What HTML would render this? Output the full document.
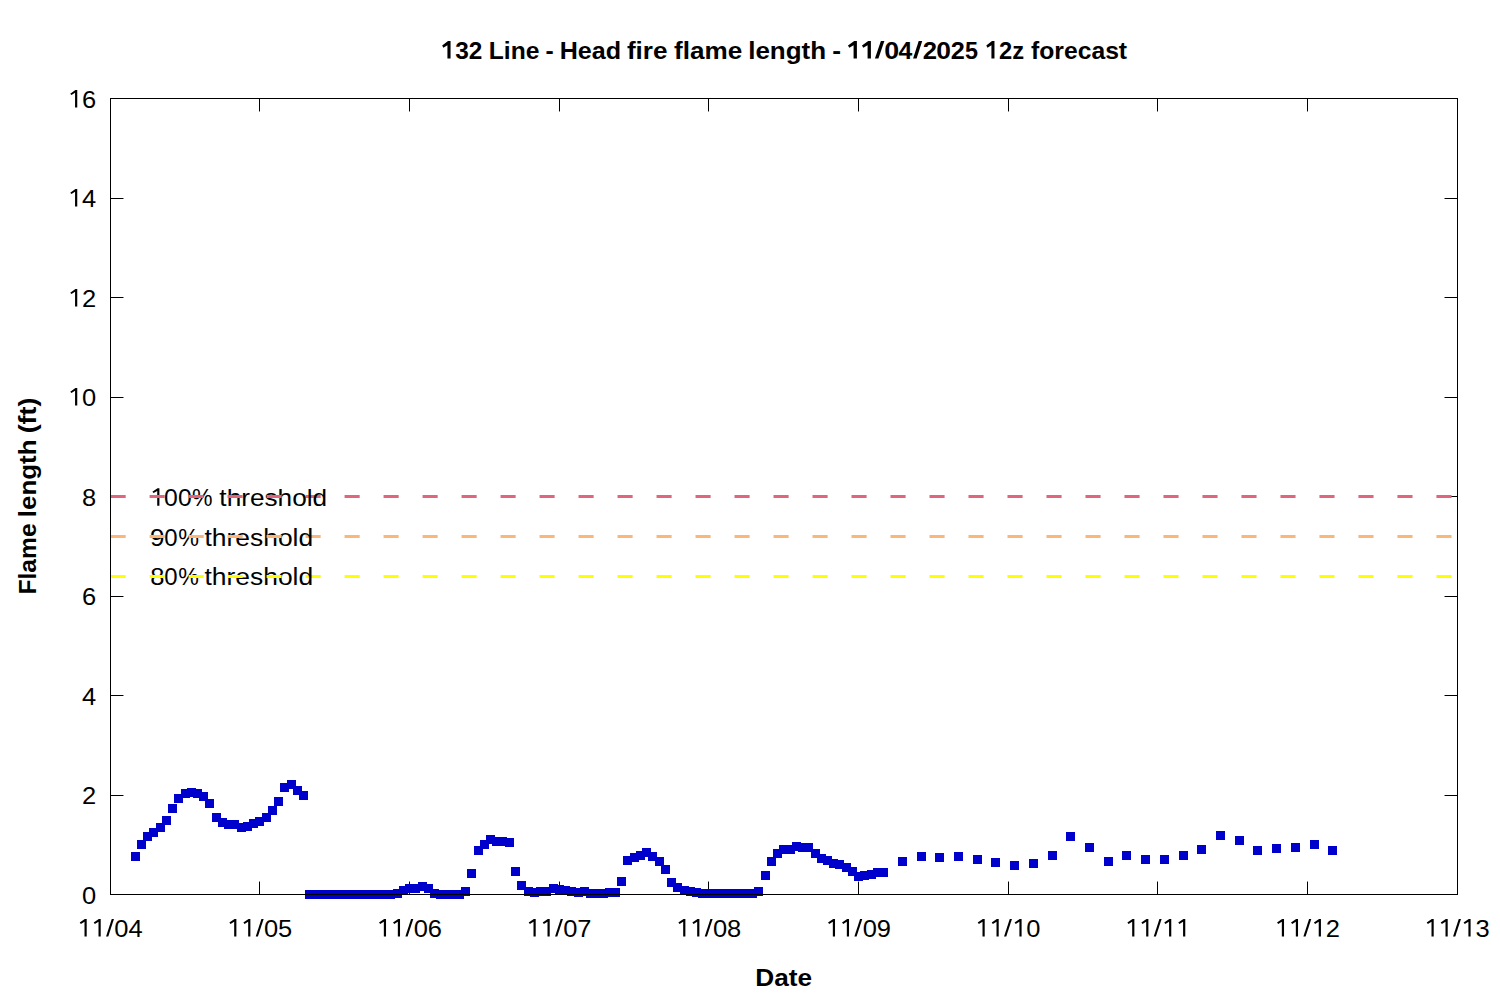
<!DOCTYPE html>
<html><head><meta charset="utf-8"><style>html,body{margin:0;padding:0;background:#fff;overflow:hidden}svg{display:block}</style></head><body>
<svg width="1500" height="1000" viewBox="0 0 1500 1000">
<rect width="1500" height="1000" fill="#fff"/>
<g shape-rendering="crispEdges"><rect x="111" y="198" width="12" height="1" fill="#000"/><rect x="123" y="198" width="1" height="1" fill="#888"/><rect x="1445" y="198" width="12" height="1" fill="#000"/><rect x="1444" y="198" width="1" height="1" fill="#888"/><rect x="111" y="297" width="12" height="1" fill="#000"/><rect x="123" y="297" width="1" height="1" fill="#888"/><rect x="1445" y="297" width="12" height="1" fill="#000"/><rect x="1444" y="297" width="1" height="1" fill="#888"/><rect x="111" y="397" width="12" height="1" fill="#000"/><rect x="123" y="397" width="1" height="1" fill="#888"/><rect x="1445" y="397" width="12" height="1" fill="#000"/><rect x="1444" y="397" width="1" height="1" fill="#888"/><rect x="111" y="496" width="12" height="1" fill="#000"/><rect x="123" y="496" width="1" height="1" fill="#888"/><rect x="1445" y="496" width="12" height="1" fill="#000"/><rect x="1444" y="496" width="1" height="1" fill="#888"/><rect x="111" y="596" width="12" height="1" fill="#000"/><rect x="123" y="596" width="1" height="1" fill="#888"/><rect x="1445" y="596" width="12" height="1" fill="#000"/><rect x="1444" y="596" width="1" height="1" fill="#888"/><rect x="111" y="695" width="12" height="1" fill="#000"/><rect x="123" y="695" width="1" height="1" fill="#888"/><rect x="1445" y="695" width="12" height="1" fill="#000"/><rect x="1444" y="695" width="1" height="1" fill="#888"/><rect x="111" y="795" width="12" height="1" fill="#000"/><rect x="123" y="795" width="1" height="1" fill="#888"/><rect x="1445" y="795" width="12" height="1" fill="#000"/><rect x="1444" y="795" width="1" height="1" fill="#888"/><rect x="259" y="99" width="1" height="12" fill="#000"/><rect x="259" y="111" width="1" height="1" fill="#888"/><rect x="259" y="882" width="1" height="12" fill="#000"/><rect x="259" y="881" width="1" height="1" fill="#888"/><rect x="409" y="99" width="1" height="12" fill="#000"/><rect x="409" y="111" width="1" height="1" fill="#888"/><rect x="409" y="882" width="1" height="12" fill="#000"/><rect x="409" y="881" width="1" height="1" fill="#888"/><rect x="559" y="99" width="1" height="12" fill="#000"/><rect x="559" y="111" width="1" height="1" fill="#888"/><rect x="559" y="882" width="1" height="12" fill="#000"/><rect x="559" y="881" width="1" height="1" fill="#888"/><rect x="708" y="99" width="1" height="12" fill="#000"/><rect x="708" y="111" width="1" height="1" fill="#888"/><rect x="708" y="882" width="1" height="12" fill="#000"/><rect x="708" y="881" width="1" height="1" fill="#888"/><rect x="858" y="99" width="1" height="12" fill="#000"/><rect x="858" y="111" width="1" height="1" fill="#888"/><rect x="858" y="882" width="1" height="12" fill="#000"/><rect x="858" y="881" width="1" height="1" fill="#888"/><rect x="1008" y="99" width="1" height="12" fill="#000"/><rect x="1008" y="111" width="1" height="1" fill="#888"/><rect x="1008" y="882" width="1" height="12" fill="#000"/><rect x="1008" y="881" width="1" height="1" fill="#888"/><rect x="1157" y="99" width="1" height="12" fill="#000"/><rect x="1157" y="111" width="1" height="1" fill="#888"/><rect x="1157" y="882" width="1" height="12" fill="#000"/><rect x="1157" y="881" width="1" height="1" fill="#888"/><rect x="1307" y="99" width="1" height="12" fill="#000"/><rect x="1307" y="111" width="1" height="1" fill="#888"/><rect x="1307" y="882" width="1" height="12" fill="#000"/><rect x="1307" y="881" width="1" height="1" fill="#888"/></g>
<g fill="#e0667d"><rect x="305.57" y="495" width="15.10" height="3"/><rect x="344.57" y="495" width="15.10" height="3"/><rect x="383.56" y="495" width="15.10" height="3"/><rect x="422.56" y="495" width="15.10" height="3"/><rect x="461.56" y="495" width="15.10" height="3"/><rect x="500.55" y="495" width="15.10" height="3"/><rect x="539.54" y="495" width="15.10" height="3"/><rect x="578.54" y="495" width="15.10" height="3"/><rect x="617.53" y="495" width="15.10" height="3"/><rect x="656.53" y="495" width="15.10" height="3"/><rect x="695.52" y="495" width="15.10" height="3"/><rect x="734.52" y="495" width="15.10" height="3"/><rect x="773.51" y="495" width="15.10" height="3"/><rect x="812.51" y="495" width="15.10" height="3"/><rect x="851.50" y="495" width="15.10" height="3"/><rect x="890.50" y="495" width="15.10" height="3"/><rect x="929.50" y="495" width="15.10" height="3"/><rect x="968.49" y="495" width="15.10" height="3"/><rect x="1007.49" y="495" width="15.10" height="3"/><rect x="1046.48" y="495" width="15.10" height="3"/><rect x="1085.47" y="495" width="15.10" height="3"/><rect x="1124.47" y="495" width="15.10" height="3"/><rect x="1163.46" y="495" width="15.10" height="3"/><rect x="1202.46" y="495" width="15.10" height="3"/><rect x="1241.45" y="495" width="15.10" height="3"/><rect x="1280.45" y="495" width="15.10" height="3"/><rect x="1319.44" y="495" width="15.10" height="3"/><rect x="1358.44" y="495" width="15.10" height="3"/><rect x="1397.43" y="495" width="15.10" height="3"/><rect x="1436.43" y="495" width="15.10" height="3"/></g>
<g fill="#f9b87a"><rect x="305.57" y="535" width="15.10" height="3"/><rect x="344.57" y="535" width="15.10" height="3"/><rect x="383.56" y="535" width="15.10" height="3"/><rect x="422.56" y="535" width="15.10" height="3"/><rect x="461.56" y="535" width="15.10" height="3"/><rect x="500.55" y="535" width="15.10" height="3"/><rect x="539.54" y="535" width="15.10" height="3"/><rect x="578.54" y="535" width="15.10" height="3"/><rect x="617.53" y="535" width="15.10" height="3"/><rect x="656.53" y="535" width="15.10" height="3"/><rect x="695.52" y="535" width="15.10" height="3"/><rect x="734.52" y="535" width="15.10" height="3"/><rect x="773.51" y="535" width="15.10" height="3"/><rect x="812.51" y="535" width="15.10" height="3"/><rect x="851.50" y="535" width="15.10" height="3"/><rect x="890.50" y="535" width="15.10" height="3"/><rect x="929.50" y="535" width="15.10" height="3"/><rect x="968.49" y="535" width="15.10" height="3"/><rect x="1007.49" y="535" width="15.10" height="3"/><rect x="1046.48" y="535" width="15.10" height="3"/><rect x="1085.47" y="535" width="15.10" height="3"/><rect x="1124.47" y="535" width="15.10" height="3"/><rect x="1163.46" y="535" width="15.10" height="3"/><rect x="1202.46" y="535" width="15.10" height="3"/><rect x="1241.45" y="535" width="15.10" height="3"/><rect x="1280.45" y="535" width="15.10" height="3"/><rect x="1319.44" y="535" width="15.10" height="3"/><rect x="1358.44" y="535" width="15.10" height="3"/><rect x="1397.43" y="535" width="15.10" height="3"/><rect x="1436.43" y="535" width="15.10" height="3"/></g>
<g fill="#ffff00"><rect x="305.57" y="575" width="15.10" height="3"/><rect x="344.57" y="575" width="15.10" height="3"/><rect x="383.56" y="575" width="15.10" height="3"/><rect x="422.56" y="575" width="15.10" height="3"/><rect x="461.56" y="575" width="15.10" height="3"/><rect x="500.55" y="575" width="15.10" height="3"/><rect x="539.54" y="575" width="15.10" height="3"/><rect x="578.54" y="575" width="15.10" height="3"/><rect x="617.53" y="575" width="15.10" height="3"/><rect x="656.53" y="575" width="15.10" height="3"/><rect x="695.52" y="575" width="15.10" height="3"/><rect x="734.52" y="575" width="15.10" height="3"/><rect x="773.51" y="575" width="15.10" height="3"/><rect x="812.51" y="575" width="15.10" height="3"/><rect x="851.50" y="575" width="15.10" height="3"/><rect x="890.50" y="575" width="15.10" height="3"/><rect x="929.50" y="575" width="15.10" height="3"/><rect x="968.49" y="575" width="15.10" height="3"/><rect x="1007.49" y="575" width="15.10" height="3"/><rect x="1046.48" y="575" width="15.10" height="3"/><rect x="1085.47" y="575" width="15.10" height="3"/><rect x="1124.47" y="575" width="15.10" height="3"/><rect x="1163.46" y="575" width="15.10" height="3"/><rect x="1202.46" y="575" width="15.10" height="3"/><rect x="1241.45" y="575" width="15.10" height="3"/><rect x="1280.45" y="575" width="15.10" height="3"/><rect x="1319.44" y="575" width="15.10" height="3"/><rect x="1358.44" y="575" width="15.10" height="3"/><rect x="1397.43" y="575" width="15.10" height="3"/><rect x="1436.43" y="575" width="15.10" height="3"/></g>
<g font-family="Liberation Sans, sans-serif" font-size="24.5" fill="#000">
<text id="t0" transform="translate(441.67,58.50) scale(0.9962,1)" font-weight="bold"><tspan fill="transparent">1</tspan>32</text>
<path transform="translate(441.67,58.50) scale(0.9962,1)" d="M8.92,-17.49 L8.92,0.00 L5.78,0.00 L5.78,-13.21 L1.71,-10.63 L0.49,-12.96 L6.37,-17.49Z"/>
<text id="t1" transform="translate(488.83,58.50) scale(1.0051,1)" font-weight="bold">Line</text>
<text id="t2" transform="translate(545.52,58.50) scale(1.0051,1)" font-weight="bold">-</text>
<text id="t3" transform="translate(559.68,58.50) scale(1.0248,1)" font-weight="bold">Head</text>
<text id="t4" transform="translate(626.90,58.50) scale(1.0655,1)" font-weight="bold">fire</text>
<text id="t5" transform="translate(674.03,58.50) scale(1.0665,1)" font-weight="bold">flame</text>
<text id="t6" transform="translate(748.18,58.50) scale(1.0604,1)" font-weight="bold">length</text>
<text id="t7" transform="translate(832.33,58.50) scale(1.0799,1)" font-weight="bold">-</text>
<text id="t8" transform="translate(985.82,58.50) scale(0.9703,1)" font-weight="bold"><tspan fill="transparent">1</tspan>2z</text>
<path transform="translate(985.82,58.50) scale(0.9703,1)" d="M8.92,-17.49 L8.92,0.00 L5.78,0.00 L5.78,-13.21 L1.71,-10.63 L0.49,-12.96 L6.37,-17.49Z"/>
<text id="t9" transform="translate(1031.00,58.50) scale(1.0087,1)" font-weight="bold">forecast</text>
<text id="t10" transform="translate(755.29,985.70) scale(1.0699,1)" font-weight="bold">Date</text>
<text id="t11" transform="translate(219.35,505.70) scale(1.0705,1)" font-weight="normal">threshold</text>
<text id="t12" transform="translate(204.41,545.60) scale(1.0794,1)" font-weight="normal">threshold</text>
<text id="t13" transform="translate(204.41,585.40) scale(1.0794,1)" font-weight="normal">threshold</text>
<text transform="translate(81.97,107.60) scale(1.0400,1)" font-weight="normal">6</text>
<path transform="translate(68.64,107.60) scale(1.0400,1)" d="M8.28,-17.49 L8.28,0.00 L6.17,0.00 L6.17,-14.80 L2.67,-12.59 L1.54,-13.94 L6.49,-17.49Z"/>
<text transform="translate(82.09,206.60) scale(1.0400,1)" font-weight="normal">4</text>
<path transform="translate(68.64,206.60) scale(1.0400,1)" d="M8.28,-17.49 L8.28,0.00 L6.17,0.00 L6.17,-14.80 L2.67,-12.59 L1.54,-13.94 L6.49,-17.49Z"/>
<text transform="translate(81.97,306.60) scale(1.0400,1)" font-weight="normal">2</text>
<path transform="translate(68.64,306.60) scale(1.0400,1)" d="M8.28,-17.49 L8.28,0.00 L6.17,0.00 L6.17,-14.80 L2.67,-12.59 L1.54,-13.94 L6.49,-17.49Z"/>
<text transform="translate(81.97,405.60) scale(1.0400,1)" font-weight="normal">0</text>
<path transform="translate(68.64,405.60) scale(1.0400,1)" d="M8.28,-17.49 L8.28,0.00 L6.17,0.00 L6.17,-14.80 L2.67,-12.59 L1.54,-13.94 L6.49,-17.49Z"/>
<text transform="translate(82.09,505.60) scale(1.0400,1)" font-weight="normal">8</text>
<text transform="translate(81.97,604.60) scale(1.0400,1)" font-weight="normal">6</text>
<text transform="translate(82.09,704.60) scale(1.0400,1)" font-weight="normal">4</text>
<text transform="translate(81.97,803.60) scale(1.0400,1)" font-weight="normal">2</text>
<text transform="translate(81.97,903.60) scale(1.0400,1)" font-weight="normal">0</text>
<path transform="translate(78.09,936.50) scale(1.0400,1)" d="M8.28,-17.49 L8.28,0.00 L6.17,0.00 L6.17,-14.80 L2.67,-12.59 L1.54,-13.94 L6.49,-17.49Z"/>
<path transform="translate(92.09,936.50) scale(1.0400,1)" d="M8.28,-17.49 L8.28,0.00 L6.17,0.00 L6.17,-14.80 L2.67,-12.59 L1.54,-13.94 L6.49,-17.49Z"/>
<path d="M106.06,936.50 L108.26,936.50 L113.94,919.01 L111.74,919.01Z"/>
<text transform="translate(114.32,936.50) scale(1.0400,1)" font-weight="normal">0</text>
<text transform="translate(128.44,936.50) scale(1.0400,1)" font-weight="normal">4</text>
<path transform="translate(227.76,936.50) scale(1.0400,1)" d="M8.28,-17.49 L8.28,0.00 L6.17,0.00 L6.17,-14.80 L2.67,-12.59 L1.54,-13.94 L6.49,-17.49Z"/>
<path transform="translate(241.76,936.50) scale(1.0400,1)" d="M8.28,-17.49 L8.28,0.00 L6.17,0.00 L6.17,-14.80 L2.67,-12.59 L1.54,-13.94 L6.49,-17.49Z"/>
<path d="M255.72,936.50 L257.92,936.50 L263.61,919.01 L261.41,919.01Z"/>
<text transform="translate(263.98,936.50) scale(1.0400,1)" font-weight="normal">0</text>
<text transform="translate(278.11,936.50) scale(1.0400,1)" font-weight="normal">5</text>
<path transform="translate(377.42,936.50) scale(1.0400,1)" d="M8.28,-17.49 L8.28,0.00 L6.17,0.00 L6.17,-14.80 L2.67,-12.59 L1.54,-13.94 L6.49,-17.49Z"/>
<path transform="translate(391.42,936.50) scale(1.0400,1)" d="M8.28,-17.49 L8.28,0.00 L6.17,0.00 L6.17,-14.80 L2.67,-12.59 L1.54,-13.94 L6.49,-17.49Z"/>
<path d="M405.39,936.50 L407.59,936.50 L413.28,919.01 L411.08,919.01Z"/>
<text transform="translate(413.65,936.50) scale(1.0400,1)" font-weight="normal">0</text>
<text transform="translate(427.65,936.50) scale(1.0400,1)" font-weight="normal">6</text>
<path transform="translate(527.09,936.50) scale(1.0400,1)" d="M8.28,-17.49 L8.28,0.00 L6.17,0.00 L6.17,-14.80 L2.67,-12.59 L1.54,-13.94 L6.49,-17.49Z"/>
<path transform="translate(541.09,936.50) scale(1.0400,1)" d="M8.28,-17.49 L8.28,0.00 L6.17,0.00 L6.17,-14.80 L2.67,-12.59 L1.54,-13.94 L6.49,-17.49Z"/>
<path d="M555.06,936.50 L557.26,936.50 L562.94,919.01 L560.74,919.01Z"/>
<text transform="translate(563.32,936.50) scale(1.0400,1)" font-weight="normal">0</text>
<text transform="translate(577.32,936.50) scale(1.0400,1)" font-weight="normal">7</text>
<path transform="translate(676.76,936.50) scale(1.0400,1)" d="M8.28,-17.49 L8.28,0.00 L6.17,0.00 L6.17,-14.80 L2.67,-12.59 L1.54,-13.94 L6.49,-17.49Z"/>
<path transform="translate(690.76,936.50) scale(1.0400,1)" d="M8.28,-17.49 L8.28,0.00 L6.17,0.00 L6.17,-14.80 L2.67,-12.59 L1.54,-13.94 L6.49,-17.49Z"/>
<path d="M704.72,936.50 L706.92,936.50 L712.61,919.01 L710.41,919.01Z"/>
<text transform="translate(712.98,936.50) scale(1.0400,1)" font-weight="normal">0</text>
<text transform="translate(727.11,936.50) scale(1.0400,1)" font-weight="normal">8</text>
<path transform="translate(826.42,936.50) scale(1.0400,1)" d="M8.28,-17.49 L8.28,0.00 L6.17,0.00 L6.17,-14.80 L2.67,-12.59 L1.54,-13.94 L6.49,-17.49Z"/>
<path transform="translate(840.42,936.50) scale(1.0400,1)" d="M8.28,-17.49 L8.28,0.00 L6.17,0.00 L6.17,-14.80 L2.67,-12.59 L1.54,-13.94 L6.49,-17.49Z"/>
<path d="M854.39,936.50 L856.59,936.50 L862.28,919.01 L860.08,919.01Z"/>
<text transform="translate(862.65,936.50) scale(1.0400,1)" font-weight="normal">0</text>
<text transform="translate(876.65,936.50) scale(1.0400,1)" font-weight="normal">9</text>
<path transform="translate(976.09,936.50) scale(1.0400,1)" d="M8.28,-17.49 L8.28,0.00 L6.17,0.00 L6.17,-14.80 L2.67,-12.59 L1.54,-13.94 L6.49,-17.49Z"/>
<path transform="translate(990.09,936.50) scale(1.0400,1)" d="M8.28,-17.49 L8.28,0.00 L6.17,0.00 L6.17,-14.80 L2.67,-12.59 L1.54,-13.94 L6.49,-17.49Z"/>
<path d="M1004.06,936.50 L1006.26,936.50 L1011.94,919.01 L1009.74,919.01Z"/>
<path transform="translate(1012.99,936.50) scale(1.0400,1)" d="M8.28,-17.49 L8.28,0.00 L6.17,0.00 L6.17,-14.80 L2.67,-12.59 L1.54,-13.94 L6.49,-17.49Z"/>
<text transform="translate(1026.32,936.50) scale(1.0400,1)" font-weight="normal">0</text>
<path transform="translate(1125.76,936.50) scale(1.0400,1)" d="M8.28,-17.49 L8.28,0.00 L6.17,0.00 L6.17,-14.80 L2.67,-12.59 L1.54,-13.94 L6.49,-17.49Z"/>
<path transform="translate(1139.76,936.50) scale(1.0400,1)" d="M8.28,-17.49 L8.28,0.00 L6.17,0.00 L6.17,-14.80 L2.67,-12.59 L1.54,-13.94 L6.49,-17.49Z"/>
<path d="M1153.72,936.50 L1155.92,936.50 L1161.61,919.01 L1159.41,919.01Z"/>
<path transform="translate(1162.66,936.50) scale(1.0400,1)" d="M8.28,-17.49 L8.28,0.00 L6.17,0.00 L6.17,-14.80 L2.67,-12.59 L1.54,-13.94 L6.49,-17.49Z"/>
<path transform="translate(1176.66,936.50) scale(1.0400,1)" d="M8.28,-17.49 L8.28,0.00 L6.17,0.00 L6.17,-14.80 L2.67,-12.59 L1.54,-13.94 L6.49,-17.49Z"/>
<path transform="translate(1275.42,936.50) scale(1.0400,1)" d="M8.28,-17.49 L8.28,0.00 L6.17,0.00 L6.17,-14.80 L2.67,-12.59 L1.54,-13.94 L6.49,-17.49Z"/>
<path transform="translate(1289.42,936.50) scale(1.0400,1)" d="M8.28,-17.49 L8.28,0.00 L6.17,0.00 L6.17,-14.80 L2.67,-12.59 L1.54,-13.94 L6.49,-17.49Z"/>
<path d="M1303.39,936.50 L1305.59,936.50 L1311.28,919.01 L1309.08,919.01Z"/>
<path transform="translate(1312.32,936.50) scale(1.0400,1)" d="M8.28,-17.49 L8.28,0.00 L6.17,0.00 L6.17,-14.80 L2.67,-12.59 L1.54,-13.94 L6.49,-17.49Z"/>
<text transform="translate(1325.65,936.50) scale(1.0400,1)" font-weight="normal">2</text>
<path transform="translate(1425.09,936.50) scale(1.0400,1)" d="M8.28,-17.49 L8.28,0.00 L6.17,0.00 L6.17,-14.80 L2.67,-12.59 L1.54,-13.94 L6.49,-17.49Z"/>
<path transform="translate(1439.09,936.50) scale(1.0400,1)" d="M8.28,-17.49 L8.28,0.00 L6.17,0.00 L6.17,-14.80 L2.67,-12.59 L1.54,-13.94 L6.49,-17.49Z"/>
<path d="M1453.06,936.50 L1455.26,936.50 L1460.94,919.01 L1458.74,919.01Z"/>
<path transform="translate(1461.99,936.50) scale(1.0400,1)" d="M8.28,-17.49 L8.28,0.00 L6.17,0.00 L6.17,-14.80 L2.67,-12.59 L1.54,-13.94 L6.49,-17.49Z"/>
<text transform="translate(1475.44,936.50) scale(1.0400,1)" font-weight="normal">3</text>
<path transform="translate(847.48,58.50) scale(1.0560,1)" d="M8.92,-17.49 L8.92,0.00 L5.78,0.00 L5.78,-13.21 L1.71,-10.63 L0.49,-12.96 L6.37,-17.49Z"/>
<path transform="translate(861.48,58.50) scale(1.0560,1)" d="M8.92,-17.49 L8.92,0.00 L5.78,0.00 L5.78,-13.21 L1.71,-10.63 L0.49,-12.96 L6.37,-17.49Z"/>
<path d="M874.90,58.50 L878.40,58.50 L884.40,41.01 L880.90,41.01Z"/>
<text transform="translate(884.33,58.50) scale(1.0942,1)" font-weight="bold">0</text>
<text transform="translate(898.41,58.50) scale(1.0089,1)" font-weight="bold">4</text>
<path d="M913.10,58.50 L916.60,58.50 L922.20,41.01 L918.70,41.01Z"/>
<text transform="translate(922.63,58.50) scale(1.0496,1)" font-weight="bold">2</text>
<text transform="translate(936.34,58.50) scale(1.0769,1)" font-weight="bold">0</text>
<text transform="translate(950.84,58.50) scale(1.0329,1)" font-weight="bold">2</text>
<text transform="translate(964.90,58.50) scale(0.9551,1)" font-weight="bold">5</text>
<path transform="translate(150.80,505.70) scale(1.0390,1)" d="M8.28,-17.49 L8.28,0.00 L6.17,0.00 L6.17,-14.80 L2.67,-12.59 L1.54,-13.94 L6.49,-17.49Z"/>
<text transform="translate(164.01,505.70) scale(1.0119,1)" font-weight="normal">0</text>
<text transform="translate(178.01,505.70) scale(1.0119,1)" font-weight="normal">0</text>
<text transform="translate(192.08,505.70) scale(0.9423,1)" font-weight="normal">%</text>
<text transform="translate(149.90,545.60) scale(1.0648,1)" font-weight="normal">9</text>
<text transform="translate(164.24,545.60) scale(0.9779,1)" font-weight="normal">0</text>
<text transform="translate(178.17,545.60) scale(0.9524,1)" font-weight="normal">%</text>
<text transform="translate(150.18,585.20) scale(1.0421,1)" font-weight="normal">8</text>
<text transform="translate(164.34,585.20) scale(0.9779,1)" font-weight="normal">0</text>
<text transform="translate(178.27,585.20) scale(0.9473,1)" font-weight="normal">%</text>
<text transform="translate(36.4,594.53) rotate(-90) scale(1.0065,1)" font-weight="bold">Flame</text>
<text transform="translate(36.4,517.21) rotate(-90) scale(1.0581,1)" font-weight="bold">length</text>
<text transform="translate(36.4,433.34) rotate(-90) scale(1.0951,1)" font-weight="bold">(ft)</text>
</g>
<g fill="#e0667d"><rect x="110.60" y="495" width="15.10" height="3"/><rect x="149.59" y="495" width="15.10" height="3"/><rect x="188.59" y="495" width="15.10" height="3"/><rect x="227.59" y="495" width="15.10" height="3"/><rect x="266.58" y="495" width="15.10" height="3"/></g>
<g fill="#f9b87a"><rect x="110.60" y="535" width="15.10" height="3"/><rect x="149.59" y="535" width="15.10" height="3"/><rect x="188.59" y="535" width="15.10" height="3"/><rect x="227.59" y="535" width="15.10" height="3"/><rect x="266.58" y="535" width="15.10" height="3"/></g>
<g fill="#ffff00"><rect x="110.60" y="575" width="15.10" height="3"/><rect x="149.59" y="575" width="15.10" height="3"/><rect x="188.59" y="575" width="15.10" height="3"/><rect x="227.59" y="575" width="15.10" height="3"/><rect x="266.58" y="575" width="15.10" height="3"/></g>
<g fill="#0000cc" shape-rendering="crispEdges">
<rect x="131" y="852" width="9" height="9"/><rect x="137" y="840" width="9" height="9"/><rect x="143" y="832" width="9" height="9"/><rect x="149" y="828" width="9" height="9"/><rect x="156" y="823" width="9" height="9"/><rect x="162" y="816" width="9" height="9"/><rect x="168" y="804" width="9" height="9"/><rect x="174" y="794" width="9" height="9"/><rect x="181" y="789" width="9" height="9"/><rect x="187" y="788" width="9" height="9"/><rect x="193" y="789" width="9" height="9"/><rect x="199" y="792" width="9" height="9"/><rect x="205" y="799" width="9" height="9"/><rect x="212" y="813" width="9" height="9"/><rect x="218" y="818" width="9" height="9"/><rect x="224" y="820" width="9" height="9"/><rect x="230" y="820" width="9" height="9"/><rect x="237" y="823" width="9" height="9"/><rect x="243" y="822" width="9" height="9"/><rect x="249" y="819" width="9" height="9"/><rect x="255" y="817" width="9" height="9"/><rect x="262" y="813" width="9" height="9"/><rect x="268" y="806" width="9" height="9"/><rect x="274" y="797" width="9" height="9"/><rect x="280" y="783" width="9" height="9"/><rect x="287" y="780" width="9" height="9"/><rect x="293" y="786" width="9" height="9"/><rect x="299" y="791" width="9" height="9"/><rect x="305" y="890" width="9" height="9"/><rect x="311" y="890" width="9" height="9"/><rect x="317" y="890" width="9" height="9"/><rect x="324" y="890" width="9" height="9"/><rect x="330" y="890" width="9" height="9"/><rect x="336" y="890" width="9" height="9"/><rect x="342" y="890" width="9" height="9"/><rect x="349" y="890" width="9" height="9"/><rect x="355" y="890" width="9" height="9"/><rect x="361" y="890" width="9" height="9"/><rect x="367" y="890" width="9" height="9"/><rect x="374" y="890" width="9" height="9"/><rect x="380" y="890" width="9" height="9"/><rect x="386" y="890" width="9" height="9"/><rect x="393" y="889" width="9" height="9"/><rect x="399" y="886" width="9" height="9"/><rect x="405" y="884" width="9" height="9"/><rect x="411" y="884" width="9" height="9"/><rect x="418" y="882" width="9" height="9"/><rect x="424" y="884" width="9" height="9"/><rect x="430" y="889" width="9" height="9"/><rect x="436" y="890" width="9" height="9"/><rect x="442" y="890" width="9" height="9"/><rect x="449" y="890" width="9" height="9"/><rect x="455" y="890" width="9" height="9"/><rect x="461" y="887" width="9" height="9"/><rect x="467" y="869" width="9" height="9"/><rect x="474" y="846" width="9" height="9"/><rect x="480" y="840" width="9" height="9"/><rect x="486" y="835" width="9" height="9"/><rect x="492" y="837" width="9" height="9"/><rect x="498" y="837" width="9" height="9"/><rect x="505" y="838" width="9" height="9"/><rect x="511" y="867" width="9" height="9"/><rect x="517" y="881" width="9" height="9"/><rect x="524" y="887" width="9" height="9"/><rect x="530" y="888" width="9" height="9"/><rect x="536" y="887" width="9" height="9"/><rect x="542" y="887" width="9" height="9"/><rect x="549" y="884" width="9" height="9"/><rect x="555" y="885" width="9" height="9"/><rect x="561" y="886" width="9" height="9"/><rect x="567" y="887" width="9" height="9"/><rect x="574" y="888" width="9" height="9"/><rect x="580" y="887" width="9" height="9"/><rect x="586" y="889" width="9" height="9"/><rect x="592" y="889" width="9" height="9"/><rect x="599" y="889" width="9" height="9"/><rect x="605" y="888" width="9" height="9"/><rect x="611" y="888" width="9" height="9"/><rect x="617" y="877" width="9" height="9"/><rect x="623" y="856" width="9" height="9"/><rect x="630" y="853" width="9" height="9"/><rect x="636" y="851" width="9" height="9"/><rect x="642" y="848" width="9" height="9"/><rect x="648" y="852" width="9" height="9"/><rect x="655" y="857" width="9" height="9"/><rect x="661" y="865" width="9" height="9"/><rect x="667" y="878" width="9" height="9"/><rect x="673" y="883" width="9" height="9"/><rect x="680" y="886" width="9" height="9"/><rect x="686" y="887" width="9" height="9"/><rect x="692" y="888" width="9" height="9"/><rect x="698" y="889" width="9" height="9"/><rect x="704" y="889" width="9" height="9"/><rect x="711" y="889" width="9" height="9"/><rect x="717" y="889" width="9" height="9"/><rect x="723" y="889" width="9" height="9"/><rect x="729" y="889" width="9" height="9"/><rect x="736" y="889" width="9" height="9"/><rect x="742" y="889" width="9" height="9"/><rect x="748" y="889" width="9" height="9"/><rect x="754" y="887" width="9" height="9"/><rect x="761" y="871" width="9" height="9"/><rect x="767" y="857" width="9" height="9"/><rect x="773" y="849" width="9" height="9"/><rect x="779" y="845" width="9" height="9"/><rect x="786" y="845" width="9" height="9"/><rect x="792" y="842" width="9" height="9"/><rect x="798" y="843" width="9" height="9"/><rect x="804" y="843" width="9" height="9"/><rect x="811" y="849" width="9" height="9"/><rect x="817" y="854" width="9" height="9"/><rect x="823" y="856" width="9" height="9"/><rect x="829" y="859" width="9" height="9"/><rect x="835" y="860" width="9" height="9"/><rect x="842" y="863" width="9" height="9"/><rect x="848" y="867" width="9" height="9"/><rect x="854" y="872" width="9" height="9"/><rect x="860" y="871" width="9" height="9"/><rect x="867" y="870" width="9" height="9"/><rect x="873" y="868" width="9" height="9"/><rect x="879" y="868" width="9" height="9"/><rect x="898" y="857" width="9" height="9"/><rect x="917" y="852" width="9" height="9"/><rect x="935" y="853" width="9" height="9"/><rect x="954" y="852" width="9" height="9"/><rect x="973" y="855" width="9" height="9"/><rect x="991" y="858" width="9" height="9"/><rect x="1010" y="861" width="9" height="9"/><rect x="1029" y="859" width="9" height="9"/><rect x="1048" y="851" width="9" height="9"/><rect x="1066" y="832" width="9" height="9"/><rect x="1085" y="843" width="9" height="9"/><rect x="1104" y="857" width="9" height="9"/><rect x="1122" y="851" width="9" height="9"/><rect x="1141" y="855" width="9" height="9"/><rect x="1160" y="855" width="9" height="9"/><rect x="1179" y="851" width="9" height="9"/><rect x="1197" y="845" width="9" height="9"/><rect x="1216" y="831" width="9" height="9"/><rect x="1235" y="836" width="9" height="9"/><rect x="1253" y="846" width="9" height="9"/><rect x="1272" y="844" width="9" height="9"/><rect x="1291" y="843" width="9" height="9"/><rect x="1310" y="840" width="9" height="9"/><rect x="1328" y="846" width="9" height="9"/>
</g>
<g fill="#000" shape-rendering="crispEdges">
<rect x="110" y="98" width="1348" height="1"/><rect x="110" y="894" width="1348" height="1"/><rect x="110" y="98" width="1" height="797"/><rect x="1457" y="98" width="1" height="797"/>
</g>
</svg>
</body></html>
